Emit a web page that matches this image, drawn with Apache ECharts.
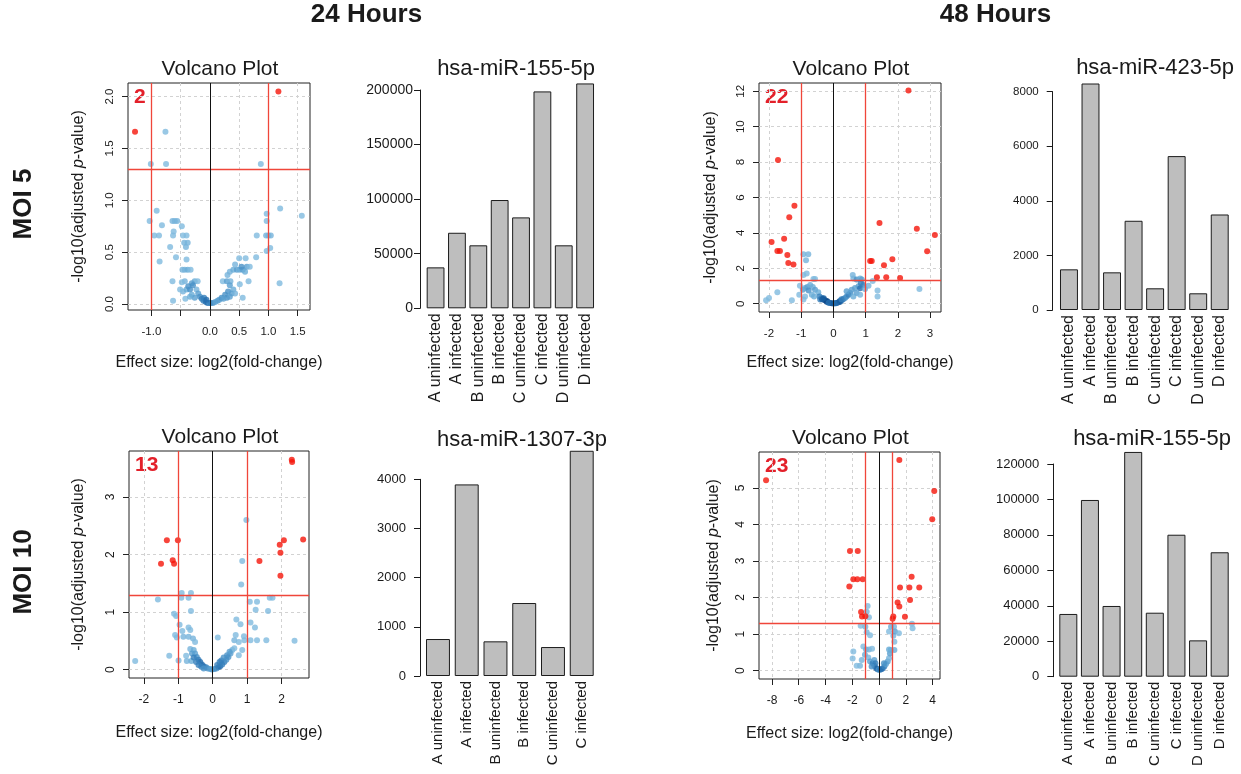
<!DOCTYPE html>
<html>
<head>
<meta charset="utf-8">
<title>Volcano plots and miRNA counts</title>
<script src="https://cdn.jsdelivr.net/npm/echarts@6/dist/echarts.min.js"></script>
<style>
  html, body { margin: 0; padding: 0; background: #fff; }
  #main { width: 1241px; height: 774px; }
</style>
</head>
<body>
<div id="main"></div>
<script>
// 阈值
const fcCut = 1 // |log2 fold-change|
const padjCut = 0.05 // adjusted p-value

// ---- 24 h, MOI 5 ----
const v24m5Red = [[-1.28, 1.66], [1.17, 2.05]]
const v24m5Blue = [
  [-0.76, 1.66], [-1.01, 1.35], [-0.75, 1.35], [0.87, 1.35],
  [-1.03, 0.80], [-0.91, 0.90], [-0.82, 0.76], [-0.95, 0.66], [-0.87, 0.66], [-0.86, 0.41],
  [-0.68, 0.55], [-0.64, 0.80], [-0.60, 0.80], [-0.56, 0.80], [-0.62, 0.70], [-0.63, 0.66],
  [-0.58, 0.45], [-0.64, 0.22], [-0.63, 0.03], [-0.48, 0.75], [-0.46, 0.66], [-0.40, 0.66],
  [-0.44, 0.59], [-0.41, 0.55], [-0.38, 0.59], [-0.40, 0.43], [-0.47, 0.33], [-0.43, 0.33],
  [-0.38, 0.33], [-0.33, 0.33], [-0.43, 0.22], [-0.26, 0.22], [-0.21, 0.22], [-0.48, 0.21],
  [-0.46, 0.12], [-0.40, 0.14], [-0.34, 0.14], [-0.31, 0.09], [-0.42, 0.05], [-0.23, 0.14],
  [-0.20, 0.10], [-0.17, 0.07], [-0.26, 0.06], [-0.14, 0.05], [-0.11, 0.03], [-0.07, 0.02],
  [-0.04, 0.01], [-0.01, 0.01], [0.01, 0.01], [0.05, 0.01], [0.09, 0.02], [0.13, 0.03],
  [0.16, 0.04], [0.20, 0.06], [-0.10, 0.06], [-0.06, 0.04], [-0.31, 0.20], [-0.29, 0.18],
  [-0.34, 0.07], [-0.37, 0.17], [-0.51, 0.14],
  [0.22, 0.22], [0.29, 0.22], [0.30, 0.28], [0.35, 0.22], [0.34, 0.31], [0.40, 0.33],
  [0.46, 0.33], [0.51, 0.33], [0.56, 0.33], [0.60, 0.31], [0.63, 0.36], [0.50, 0.44],
  [0.61, 0.44], [0.54, 0.36], [0.43, 0.38], [0.66, 0.22], [0.51, 0.19], [0.56, 0.06],
  [0.68, 0.36], [0.79, 0.45], [0.80, 0.66], [0.96, 0.66], [1.00, 0.66], [1.04, 0.66],
  [0.97, 0.87], [0.97, 0.80], [0.97, 0.51], [1.03, 0.54], [1.20, 0.92], [1.19, 0.20],
  [1.57, 0.85], [0.34, 0.18], [0.40, 0.14], [0.31, 0.12], [0.37, 0.10], [0.43, 0.10],
  [0.26, 0.09], [0.29, 0.06], [0.23, 0.05], [0.34, 0.07]
]
const v24m5XTicks = [-1, -0.5, 0, 0.5, 1, 1.5]
const v24m5XLabels = [-1, 0, 0.5, 1, 1.5]
const v24m5YTicks = [0, 0.5, 1, 1.5, 2]

// ---- 48 h, MOI 5 ----
const v48m5Red = [
  [2.33, 12.05], [-1.72, 8.12], [-1.21, 5.54], [-1.37, 4.88], [-1.92, 3.49], [-1.53, 3.67],
  [-1.74, 2.98], [-1.66, 2.98], [-1.43, 2.75], [-1.40, 2.30], [-1.24, 2.22], [1.43, 4.56],
  [1.14, 2.41], [1.19, 2.41], [1.57, 2.17], [1.83, 2.51], [1.35, 1.49], [1.64, 1.49],
  [2.07, 1.45], [2.59, 4.24], [2.91, 2.96], [3.15, 3.88]
]
const v48m5Blue = [
  [-0.93, 2.79], [-0.78, 2.79], [-0.85, 2.45], [-0.93, 1.62], [-0.83, 1.70], [-1.04, 1.02],
  [-0.62, 1.39], [-0.57, 1.39], [-0.95, 0.79], [-0.88, 0.89], [-0.81, 0.94], [-0.72, 1.05],
  [-0.64, 0.94], [-0.77, 0.75], [-0.57, 0.79], [-0.47, 0.64], [-1.06, 0.51], [-0.88, 0.41],
  [-0.93, 0.23], [-1.74, 0.64], [-2.00, 0.32], [-2.09, 0.19], [-1.29, 0.19], [-0.43, 0.41],
  [-0.36, 0.32], [-0.31, 0.23], [-0.26, 0.19], [-0.21, 0.11], [-0.16, 0.08], [-0.10, 0.04],
  [-0.05, 0.02], [0.05, 0.02], [0.10, 0.04], [0.16, 0.08], [0.21, 0.11], [0.26, 0.19],
  [0.31, 0.26], [0.36, 0.32], [0.41, 0.41], [0.47, 0.51], [0.52, 0.60], [-0.41, 0.23],
  [-0.60, 0.41], [-0.67, 0.51], [-0.20, 0.15], [-0.15, 0.05], [0.00, 0.01], [0.08, 0.03],
  [0.20, 0.15], [0.25, 0.25], [-0.30, 0.30], [-0.35, 0.25],
  [0.60, 1.62], [0.62, 1.43], [0.72, 1.36], [0.83, 1.43], [0.88, 1.36], [0.78, 0.98],
  [0.67, 0.89], [0.57, 0.79], [0.83, 0.87], [0.93, 1.05], [0.85, 1.17], [0.98, 0.83],
  [1.09, 1.02], [1.22, 1.28], [1.37, 0.75], [1.37, 0.41], [2.67, 0.83], [0.72, 0.60],
  [0.62, 0.41], [0.83, 0.51], [0.41, 0.70]
]
const v48m5XTicks = [-2, -1, 0, 1, 2, 3]
const v48m5YTicks = [0, 2, 4, 6, 8, 10, 12]

// ---- 24 h, MOI 10 ----
const v24m10Red = [
  [2.30, 3.65], [2.31, 3.61], [-1.33, 2.25], [-1.01, 2.25], [-1.50, 1.84], [-1.16, 1.90],
  [-1.12, 1.84], [1.36, 1.89], [1.95, 2.17], [2.07, 2.25], [2.63, 2.26], [1.97, 2.03],
  [1.97, 1.63]
]
const v24m10Blue = [
  [0.98, 2.60], [0.86, 1.89], [0.83, 1.48], [-1.59, 1.22], [-0.90, 1.33], [-0.91, 1.25],
  [-0.70, 1.25], [-0.63, 1.33], [1.08, 1.18], [1.29, 1.18], [1.25, 1.04], [1.61, 1.02],
  [1.66, 1.25], [1.74, 1.25], [-1.12, 0.97], [-1.06, 0.93], [-0.96, 0.78], [-0.88, 0.67],
  [-0.63, 1.02], [-0.70, 0.73], [-0.65, 0.69], [-1.09, 0.60], [-1.04, 0.56], [-0.85, 0.57],
  [-0.70, 0.57], [-0.57, 0.54], [-0.51, 0.48], [-2.25, 0.15], [-1.26, 0.24], [-0.99, 0.16],
  [-0.77, 0.24], [-0.75, 0.15], [-0.62, 0.15], [-0.65, 0.36], [-0.55, 0.34], [-0.51, 0.28],
  [-0.46, 0.22], [-0.41, 0.17], [-0.36, 0.13], [-0.31, 0.09], [-0.26, 0.06], [-0.19, 0.04],
  [-0.14, 0.02], [-0.07, 0.01], [-0.02, 0.00], [0.05, 0.01], [0.11, 0.02], [0.17, 0.04],
  [0.22, 0.06], [0.28, 0.09], [0.34, 0.13], [0.40, 0.17], [0.46, 0.22], [0.52, 0.28],
  [0.57, 0.34], [0.63, 0.37], [0.15, 0.56], [0.69, 0.87], [0.81, 0.79], [0.67, 0.60],
  [0.63, 0.51], [0.76, 0.48], [0.91, 0.58], [0.92, 0.51], [1.10, 0.82], [1.23, 0.73],
  [1.10, 0.51], [1.29, 0.51], [1.56, 0.51], [2.38, 0.50], [0.86, 0.34], [0.76, 0.25],
  [-0.60, 0.28], [-0.55, 0.21], [-0.48, 0.13], [-0.41, 0.08], [-0.33, 0.05], [-0.26, 0.02],
  [0.25, 0.16], [0.32, 0.21], [0.42, 0.25], [0.49, 0.31], [0.20, 0.13], [0.13, 0.08]
]
const v24m10XTicks = [-2, -1, 0, 1, 2]
const v24m10YTicks = [0, 1, 2, 3]

// ---- 48 h, MOI 10 ----
const v48m10Red = [
  [-8.44, 5.21], [1.52, 5.76], [4.13, 4.91], [3.98, 4.14], [-2.17, 3.27], [-1.59, 3.27],
  [-1.92, 2.50], [-1.62, 2.50], [-1.22, 2.50], [-2.22, 2.30], [-1.34, 1.60], [-1.27, 1.48],
  [-1.02, 1.49], [2.44, 2.57], [1.57, 2.27], [2.27, 2.27], [3.01, 2.27], [2.32, 1.93],
  [1.39, 1.86], [1.52, 1.75], [1.94, 1.47], [1.02, 1.42], [1.07, 1.48]
]
const v48m10Blue = [
  [-0.85, 1.77], [-0.92, 1.61], [-0.75, 1.46], [-1.37, 1.23], [-1.02, 1.20], [-0.92, 1.05],
  [-0.67, 0.97], [-1.92, 0.52], [-1.97, 0.33], [-1.17, 0.66], [-0.97, 0.58], [-0.75, 0.58],
  [-0.52, 0.60], [-1.29, 0.29], [-1.42, 0.13], [-1.05, 0.43], [-0.80, 0.36], [-0.67, 0.25],
  [-0.47, 0.20], [-0.35, 0.13], [-0.22, 0.07], [-0.12, 0.04], [-0.02, 0.02], [0.07, 0.02],
  [0.17, 0.04], [0.27, 0.06], [0.40, 0.11], [0.52, 0.18], [0.65, 0.25], [0.75, 0.34],
  [0.82, 0.47], [0.87, 0.56], [0.75, 0.58], [1.15, 0.56], [1.15, 0.79], [1.07, 0.95],
  [0.75, 1.07], [0.90, 1.20], [1.12, 1.20], [1.19, 1.07], [1.49, 1.02], [2.46, 1.28],
  [2.51, 1.16], [-0.35, 0.29], [-0.27, 0.20], [-0.55, 0.11], [0.37, 0.20], [-1.67, 0.13]
]
const v48m10XTicks = [-8, -6, -4, -2, 0, 2, 4]
const v48m10YTicks = [0, 1, 2, 3, 4, 5]

// ---- 柱状图 ----
const groups8 = ['A uninfected', 'A infected', 'B uninfected', 'B infected', 'C uninfected', 'C infected', 'D uninfected', 'D infected']
const groups6 = ['A uninfected', 'A infected', 'B uninfected', 'B infected', 'C uninfected', 'C infected']
const miR155At24 = [37500, 69200, 57700, 99200, 83300, 198700, 57700, 206000]
const miR423At48 = [1490, 8300, 1380, 3270, 795, 5640, 612, 3500]
const miR1307At24 = [752, 3896, 705, 1484, 589, 4580]
const miR155At48 = [35400, 99700, 39900, 126800, 36100, 80100, 20500, 70200]
const miR155At24Ticks = [0, 50000, 100000, 150000, 200000]
const miR423At48Ticks = [0, 2000, 4000, 6000, 8000]
const miR1307At24Ticks = [0, 1000, 2000, 3000, 4000]
const miR155At48Ticks = [0, 20000, 40000, 60000, 80000, 100000, 120000]

// ---- 样式 ----
const FONT = '"Liberation Sans", Arial, Helvetica, sans-serif'
const INK = '#1a1a1a'
const RED = '#f5150a'
const LINE_RED = '#f0463a'
const blueRamp = ['#80badf', '#6caed8', '#4f98cb', '#2f79b8', '#13589c', '#08306b']

const volcanoes = [
  { red: v24m5Red, blue: v24m5Blue, xTicks: v24m5XTicks, xLabels: v24m5XLabels, yTicks: v24m5YTicks, digits: 1,
    grid: { left: 128, top: 83, width: 182, height: 227 }, xr: [-1.40, 1.71], yr: [-0.058, 2.131],
    tickFont: 11.5, xNameGap: 45, yNameGap: 41 },
  { red: v48m5Red, blue: v48m5Blue, xTicks: v48m5XTicks, xLabels: v48m5XTicks, yTicks: v48m5YTicks, digits: 0,
    grid: { left: 759, top: 83, width: 182, height: 229 }, xr: [-2.31, 3.34], yr: [-0.47, 12.47],
    tickFont: 11.5, xNameGap: 43, yNameGap: 40 },
  { red: v24m10Red, blue: v24m10Blue, xTicks: v24m10XTicks, xLabels: v24m10XTicks, yTicks: v24m10YTicks, digits: 0,
    grid: { left: 129, top: 451, width: 180, height: 227 }, xr: [-2.43, 2.80], yr: [-0.146, 3.80],
    tickFont: 12, xNameGap: 47, yNameGap: 42 },
  { red: v48m10Red, blue: v48m10Blue, xTicks: v48m10XTicks, xLabels: v48m10XTicks, yTicks: v48m10YTicks, digits: 0,
    grid: { left: 759, top: 452, width: 181, height: 227 }, xr: [-8.97, 4.56], yr: [-0.23, 5.98],
    tickFont: 12, xNameGap: 47, yNameGap: 37 }
]

const bars = [
  { title: 'hsa-miR-155-5p', cats: groups8, values: miR155At24, ticks: miR155At24Ticks,
    grid: { left: 424.9, top: 90, width: 170.9, height: 218.3 }, offset: 4.9, tickFont: 14, labelMargin: 7,
    catFont: 16, titleAt: [516, 69] },
  { title: 'hsa-miR-423-5p', cats: groups8, values: miR423At48, ticks: miR423At48Ticks,
    grid: { left: 1058.2, top: 91.7, width: 172.3, height: 218.3 }, offset: 5.5, tickFont: 11.5, labelMargin: 14,
    catFont: 16, titleAt: [1155, 68] },
  { title: 'hsa-miR-1307-3p', cats: groups6, values: miR1307At24, ticks: miR1307At24Ticks,
    grid: { left: 423.6, top: 479.3, width: 172.5, height: 196.7 }, offset: 3.6, tickFont: 13, labelMargin: 14,
    catFont: 15, titleAt: [522, 440] },
  { title: 'hsa-miR-155-5p', cats: groups8, values: miR155At48, ticks: miR155At48Ticks,
    grid: { left: 1057.5, top: 464, width: 173, height: 212.7 }, offset: 4.2, tickFont: 13, labelMargin: 14,
    catFont: 15, titleAt: [1152, 439] }
]

// 按局部点密度着色 (类似 densCols)
function shadeByDensity (pts, xr, yr) {
  const sx = xr[1] - xr[0]
  const sy = yr[1] - yr[0]
  return pts.map(p => {
    let n = 0
    pts.forEach(q => {
      const dx = (p[0] - q[0]) / sx
      const dy = (p[1] - q[1]) / sy
      if (dx * dx + dy * dy < 0.03 * 0.03) n++
    })
    const t = Math.min(Math.max(n - 2, 0) / 9, 1)
    return { value: p, itemStyle: { color: echarts.color.lerp(t, blueRamp) } }
  })
}

function textEl (text, x, y, font, color, rotation) {
  return {
    type: 'text',
    x: x,
    y: y,
    rotation: rotation || 0,
    silent: true,
    style: { text: text, font: font, fill: color || INK, textAlign: 'center', textVerticalAlign: 'middle' }
  }
}

const noLabelLine = { silent: true, symbol: ['none', 'none'], label: { show: false }, animation: false }

const option = {
  animation: false,
  backgroundColor: '#fff',
  textStyle: { fontFamily: FONT, color: INK },
  grid: [],
  xAxis: [],
  yAxis: [],
  series: [],
  graphic: []
}

volcanoes.forEach((v, i) => {
  option.grid.push(Object.assign({ show: true, borderColor: '#222', borderWidth: 1, outerBoundsMode: 'none' }, v.grid))
  const fmt = val => Number(val).toFixed(v.digits)
  option.xAxis.push({
    gridIndex: i,
    type: 'value',
    min: v.xr[0],
    max: v.xr[1],
    axisLine: { show: false, onZero: false },
    axisTick: { show: true, customValues: v.xTicks, length: 6, lineStyle: { color: '#222' } },
    axisLabel: { customValues: v.xLabels, formatter: fmt, fontSize: v.tickFont, color: INK, margin: 16 },
    splitLine: { show: true, lineStyle: { color: '#d2d2d2', type: [3, 3], width: 1 } },
    name: 'Effect size: log2(fold-change)',
    nameLocation: 'middle',
    nameGap: v.xNameGap,
    nameTextStyle: { fontSize: 16, color: INK }
  })
  option.yAxis.push({
    gridIndex: i,
    type: 'value',
    min: v.yr[0],
    max: v.yr[1],
    axisLine: { show: false, onZero: false },
    axisTick: { show: true, customValues: v.yTicks, length: 6, lineStyle: { color: '#222' } },
    axisLabel: { customValues: v.yTicks, formatter: fmt, fontSize: v.tickFont, color: INK, margin: 12, rotate: 90 },
    splitLine: { show: true, lineStyle: { color: '#d2d2d2', type: [3, 3], width: 1 } },
    name: '-log10(adjusted {i|p}-value)',
    nameLocation: 'middle',
    nameRotate: 90,
    nameGap: v.yNameGap,
    nameTextStyle: { fontSize: 16, color: INK, rich: { i: { fontSize: 16, fontStyle: 'italic', color: INK } } }
  })
  const redLine = { color: LINE_RED, width: 1.3, type: 'solid' }
  // 不显著的点 + p 值阈值线
  option.series.push({
    type: 'scatter',
    xAxisIndex: i,
    yAxisIndex: i,
    symbolSize: 6,
    z: 2,
    silent: true,
    data: shadeByDensity(v.blue, v.xr, v.yr),
    markLine: Object.assign({
      data: [{ yAxis: -Math.log10(padjCut), lineStyle: redLine }]
    }, noLabelLine)
  })
  // 显著的点 + fold-change 阈值线
  option.series.push({
    type: 'scatter',
    xAxisIndex: i,
    yAxisIndex: i,
    symbolSize: 6,
    z: 3,
    silent: true,
    itemStyle: { color: RED },
    data: v.red,
    markLine: Object.assign({
      data: [
        { xAxis: -fcCut, lineStyle: redLine },
        { xAxis: fcCut, lineStyle: redLine },
        { xAxis: 0, lineStyle: { color: '#111', width: 1, type: 'solid' } }
      ]
    }, noLabelLine)
  })
  const g = v.grid
  option.graphic.push(textEl('Volcano Plot', g.left + g.width / 2 + 1, g.top - 14, '21px ' + FONT))
  option.graphic.push({
    type: 'text',
    x: g.left + 6,
    y: g.top + 14.5,
    silent: true,
    style: { text: String(v.red.length), font: 'bold 21px ' + FONT, fill: '#e3202a', textAlign: 'left', textVerticalAlign: 'middle' }
  })
})

bars.forEach((b, j) => {
  const gi = 4 + j
  option.grid.push(Object.assign({ show: false, outerBoundsMode: 'none' }, b.grid))
  option.xAxis.push({
    gridIndex: gi,
    type: 'category',
    data: b.cats,
    axisLine: { show: false },
    axisTick: { show: false },
    axisLabel: { interval: 0, rotate: 90, fontSize: b.catFont, color: INK, margin: 5 },
    splitLine: { show: false }
  })
  option.yAxis.push({
    gridIndex: gi,
    type: 'value',
    min: b.ticks[0],
    max: b.ticks[b.ticks.length - 1],
    interval: b.ticks[1] - b.ticks[0],
    offset: b.offset,
    axisLine: { show: true, lineStyle: { color: INK, width: 1 } },
    axisTick: { show: true, length: 6, lineStyle: { color: INK } },
    axisLabel: { fontSize: b.tickFont, color: INK, margin: b.labelMargin, formatter: val => String(val) },
    splitLine: { show: false }
  })
  option.series.push({
    type: 'bar',
    xAxisIndex: gi,
    yAxisIndex: gi,
    data: b.values,
    barCategoryGap: '16.7%',
    clip: false,
    silent: true,
    itemStyle: { color: '#bebebe', borderColor: '#1c1c1c', borderWidth: 1 }
  })
  option.graphic.push(textEl(b.title, b.titleAt[0], b.titleAt[1], '22px ' + FONT))
})

// 总标题与行标签
option.graphic.push(textEl('24 Hours', 366.5, 14.5, 'bold 26px ' + FONT))
option.graphic.push(textEl('48 Hours', 995.5, 14.5, 'bold 26px ' + FONT))
option.graphic.push(textEl('MOI 5', 24, 204, 'bold 26px ' + FONT, INK, Math.PI / 2))
option.graphic.push(textEl('MOI 10', 24, 572, 'bold 26px ' + FONT, INK, Math.PI / 2))

const myChart = echarts.init(document.getElementById('main'))
myChart.setOption(option)
</script>
</body>
</html>
